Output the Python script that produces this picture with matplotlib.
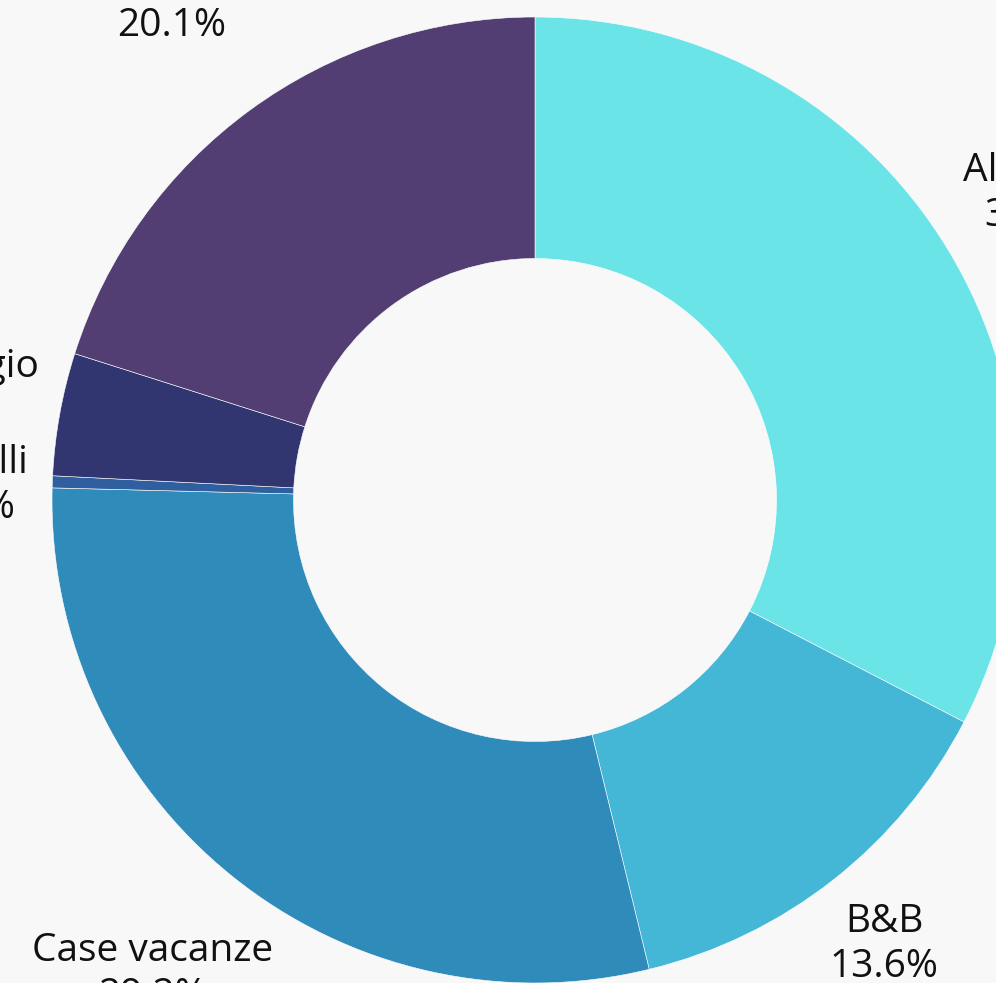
import matplotlib.pyplot as plt
import numpy as np

# Strutture ricettive - quota percentuale
categories = ['Alberghi', 'B&B', 'Case vacanze', 'Ostelli', 'Campeggio', 'Altro']
shares = [32.6, 13.6, 29.2, 0.4, 4.1, 20.1]
colors = ['#6BE4E8', '#44B6D6', '#2E8BBA', '#2F5F9E', '#313570', '#523E72']
label_dist = [1.22, 1.17, 1.26, 1.17, 1.255, 1.275]
# small nudges (pixels) for crowded labels
nudge = [(0, 0), (0, 0), (0, 0), (1, -7), (0, 2), (0, 0)]

plt.rcParams['font.family'] = ['Open Sans', 'DejaVu Sans']

fig = plt.figure(figsize=(9.96, 9.83), dpi=100)
fig.patch.set_facecolor('#F8F8F8')
ax = fig.add_axes([0, 0, 1, 1])
ax.set_facecolor('#F8F8F8')

wedges, _ = ax.pie(shares, colors=colors, startangle=90, counterclock=False,
                   radius=1.0, wedgeprops=dict(width=0.5, edgecolor='white', linewidth=0.4))

for w, name, val, d, (nx, ny) in zip(wedges, categories, shares, label_dist, nudge):
    ang = np.deg2rad((w.theta1 + w.theta2) / 2)
    x, y = d * np.cos(ang) + nx / 483, d * np.sin(ang) + ny / 483
    ax.text(x, y, f'{name}\n{val:.1f}%', ha='center', va='center',
            fontsize=28, color='#111111', linespacing=1.25)

ax.set_xlim(-535 / 483, 461 / 483)
ax.set_ylim(-483 / 483, 500 / 483)
ax.set_aspect('equal')
ax.axis('off')

fig.savefig('out.png', dpi=100, facecolor=fig.get_facecolor())
